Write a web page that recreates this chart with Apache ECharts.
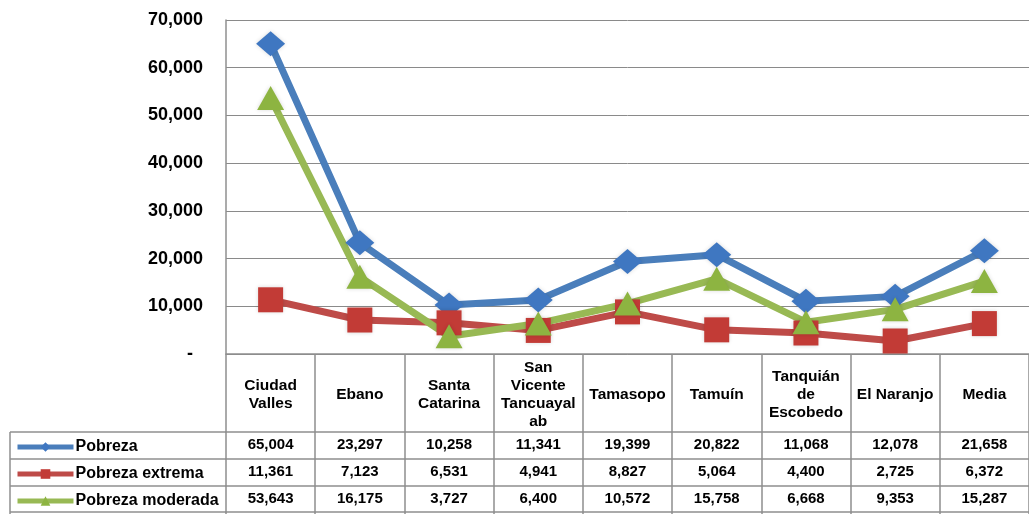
<!DOCTYPE html>
<html lang="es">
<head>
<meta charset="UTF-8">
<title>Pobreza por municipio</title>
<style>
  * { margin: 0; padding: 0; }
  html, body { width: 100%; height: 100%; background: #fff; }
  #chart { width: 1029px; height: 514px; }
</style>
<script src="https://cdn.jsdelivr.net/npm/echarts@6/dist/echarts.min.js"></script>
</head>
<body>
<div id="chart"></div>
<script>
  const categories = ['Ciudad\nValles', 'Ebano', 'Santa\nCatarina', 'San\nVicente\nTancuayal\nab',
    'Tamasopo', 'Tamuín', 'Tanquián\nde\nEscobedo', 'El Naranjo', 'Media']
  const pobreza = [65004, 23297, 10258, 11341, 19399, 20822, 11068, 12078, 21658]
  const pobrezaExtrema = [11361, 7123, 6531, 4941, 8827, 5064, 4400, 2725, 6372]
  const pobrezaModerada = [53643, 16175, 3727, 6400, 10572, 15758, 6668, 9353, 15287]
  const yTicks = [0, 10000, 20000, 30000, 40000, 50000, 60000, 70000]

  const fmt = v => v.toLocaleString('en-US')
  const border = '#8f8f8f'
  const font = 'Liberation Sans, Arial, sans-serif'

  function rowAxis(values, offset) {
    return {
      type: 'category',
      gridIndex: 0,
      position: 'bottom',
      offset: offset,
      data: values ? values.map(fmt) : categories.map(() => ''),
      axisLine: { show: true, lineStyle: { color: border, width: 1.5 } },
      axisTick: { show: false },
      axisLabel: {
        show: !!values, interval: 0, margin: 13, verticalAlign: 'middle',
        color: '#000', fontWeight: 'bold', fontSize: 15, fontFamily: font
      }
    }
  }

  const chart = echarts.init(document.getElementById('chart'))
  chart.setOption({
    animation: false,
    grid: { left: 226, right: 0, top: 20, bottom: 160 },
    legend: {
      orient: 'vertical', left: 15, top: 438, padding: 0,
      itemWidth: 56, itemHeight: 12, itemGap: 9,
      lineStyle: { width: 5 },
      textStyle: {
        color: '#000', fontWeight: 'bold', fontSize: 16, fontFamily: font,
        lineHeight: 18, padding: [0, 0, 0, -3]
      },
      data: ['Pobreza', 'Pobreza extrema', 'Pobreza moderada']
    },
    xAxis: [
      {
        type: 'category',
        data: categories,
        boundaryGap: true,
        axisLine: { show: true, lineStyle: { color: border, width: 1.5 } },
        axisTick: { show: true, interval: 0, length: 160, lineStyle: { color: border, width: 1.5 } },
        axisLabel: {
          interval: 0, margin: 41, verticalAlign: 'middle', lineHeight: 18,
          color: '#000', fontWeight: 'bold', fontSize: 15.5, fontFamily: font
        }
      },
      rowAxis(pobreza, 78),
      rowAxis(pobrezaExtrema, 105),
      rowAxis(pobrezaModerada, 132),
      rowAxis(null, 158)
    ],
    yAxis: {
      type: 'value',
      min: yTicks[0],
      max: yTicks[yTicks.length - 1],
      interval: 10000,
      axisLine: { show: true, lineStyle: { color: border, width: 1.5 } },
      axisTick: { show: false },
      splitLine: { lineStyle: { color: '#8a8a8a', width: 1 } },
      axisLabel: {
        margin: 23, color: '#000', fontWeight: 'bold', fontSize: 18, fontFamily: font,
        formatter: v => v === 0 ? '-  ' : fmt(v)
      }
    },
    graphic: [
      { type: 'line', shape: { x1: 10, y1: 432, x2: 226, y2: 432 }, style: { stroke: border, lineWidth: 1.5 } },
      { type: 'line', shape: { x1: 10, y1: 459, x2: 226, y2: 459 }, style: { stroke: border, lineWidth: 1.5 } },
      { type: 'line', shape: { x1: 10, y1: 486, x2: 226, y2: 486 }, style: { stroke: border, lineWidth: 1.5 } },
      { type: 'line', shape: { x1: 10, y1: 512, x2: 226, y2: 512 }, style: { stroke: border, lineWidth: 1.5 } },
      { type: 'line', shape: { x1: 10, y1: 432, x2: 10, y2: 514 }, style: { stroke: border, lineWidth: 1.5 } }
    ],
    series: [
      {
        name: 'Pobreza', type: 'line', data: pobreza,
        symbol: 'diamond', symbolSize: [29, 25],
        lineStyle: { color: '#4a7ebb', width: 7 },
        itemStyle: { color: '#3f77c1', shadowColor: 'rgba(0,0,0,0.15)', shadowBlur: 4 }
      },
      {
        name: 'Pobreza extrema', type: 'line', data: pobrezaExtrema,
        symbol: 'rect', symbolSize: 25,
        lineStyle: { color: '#be4b48', width: 7 },
        itemStyle: { color: '#c23b36', shadowColor: 'rgba(0,0,0,0.15)', shadowBlur: 4 }
      },
      {
        name: 'Pobreza moderada', type: 'line', data: pobrezaModerada,
        symbol: 'triangle', symbolSize: [27, 24],
        lineStyle: { color: '#98b954', width: 7 },
        itemStyle: { color: '#8db441', shadowColor: 'rgba(0,0,0,0.15)', shadowBlur: 4 }
      }
    ]
  })
</script>
</body>
</html>
